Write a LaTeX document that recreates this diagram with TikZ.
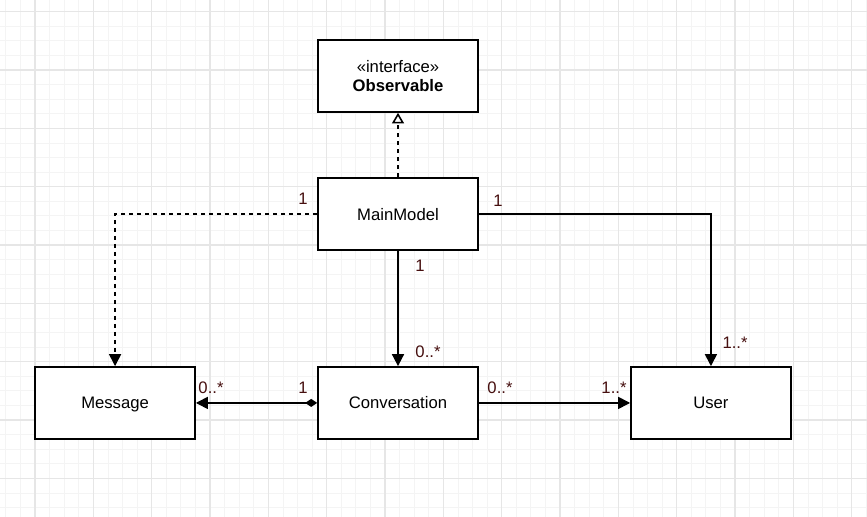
\documentclass[tikz,border=0pt]{standalone}
\usepackage{fontspec}
\setmainfont{Liberation Sans}
\usetikzlibrary{arrows.meta,positioning}

\definecolor{gridminor}{RGB}{244,244,244}
\definecolor{gridmajor}{RGB}{230,230,230}
\definecolor{multcol}{RGB}{70,15,15}

\tikzset{
  umlclass/.style={draw,line width=1.2pt,fill=white,minimum width=120pt,minimum height=54pt,align=center,text depth=0pt,font=\fontsize{12.5}{14.5}\selectfont},
  mult/.style={text=multcol,inner sep=0pt,font=\fontsize{12.5}{15}\selectfont},
  assoc/.style={line width=1.2pt,-{Triangle[length=9pt,width=9pt]}},
}

\begin{document}
\begin{tikzpicture}[x=0.75pt,y=-0.75pt,node distance=1mm]
      \fill[white] (0,0) rectangle (867,517);
      \useasboundingbox (0,0) rectangle (867,517);

      % grid
      \foreach \i in {0,...,61} {
        \draw[gridminor,line width=0.6pt] ({-23.33+\i*14.583},0) -- ++(0,517);
      }
      \foreach \i in {0,...,36} {
        \draw[gridminor,line width=0.6pt] (0,{-2.9+\i*14.583}) -- ++(867,0);
      }
      \foreach \i in {0,...,15} {
        \draw[gridmajor,line width=0.8pt] ({-23.33+\i*58.33},0) -- ++(0,517);
      }
      \foreach \i in {0,...,9} {
        \draw[gridmajor,line width=0.8pt] (0,{11.67+\i*58.33}) -- ++(867,0);
      }

      \node [umlclass] (main-model) at (398,214) {MainModel};
      \node [umlclass] (observable) [above=48.3pt of main-model] {«interface»\\ \textbf{Observable}};
      \node [umlclass] (conversation) [below=86.5pt of main-model] {Conversation};
      \node [umlclass] (message) [left=91pt of conversation] {Message};
      \node [umlclass] (user) [right=113.5pt of conversation] {User};

      \draw[line width=1.2pt,dashed,-{Triangle[open,length=8pt,width=9pt]}] (main-model.north) -- (observable.south);
      \draw[line width=1.2pt,dashed,-{Triangle[length=9pt,width=9pt]}] (main-model.west) -| (message.north);
      \draw[assoc] (main-model.east) -| (user.north);
      \draw[assoc] (main-model.south) -- (conversation.north);
      \draw[assoc,{Diamond[length=9pt,width=6pt]}-{Triangle[length=9pt,width=9pt]}] (conversation.west) -- (message.east);
      \draw[assoc] (conversation.east) -- (user.west);

      \node[mult] (mm-msg-1) at (303,199) {1};
      \node[mult] (mm-user-1) at (498,201) {1};
      \node[mult] (mm-user-n) at (735,343) {1..*};
      \node[mult] (mm-conv-1) at (420,266) {1};
      \node[mult] (mm-conv-n) at (428,352) {0..*};
      \node[mult] (conv-msg-n) at (211,388) {0..*};
      \node[mult] (conv-msg-1) at (303,388) {1};
      \node[mult] (conv-user-n) at (500,388) {0..*};
      \node[mult] (conv-user-m) at (614,388) {1..*};
  \end{tikzpicture}
\end{document}
